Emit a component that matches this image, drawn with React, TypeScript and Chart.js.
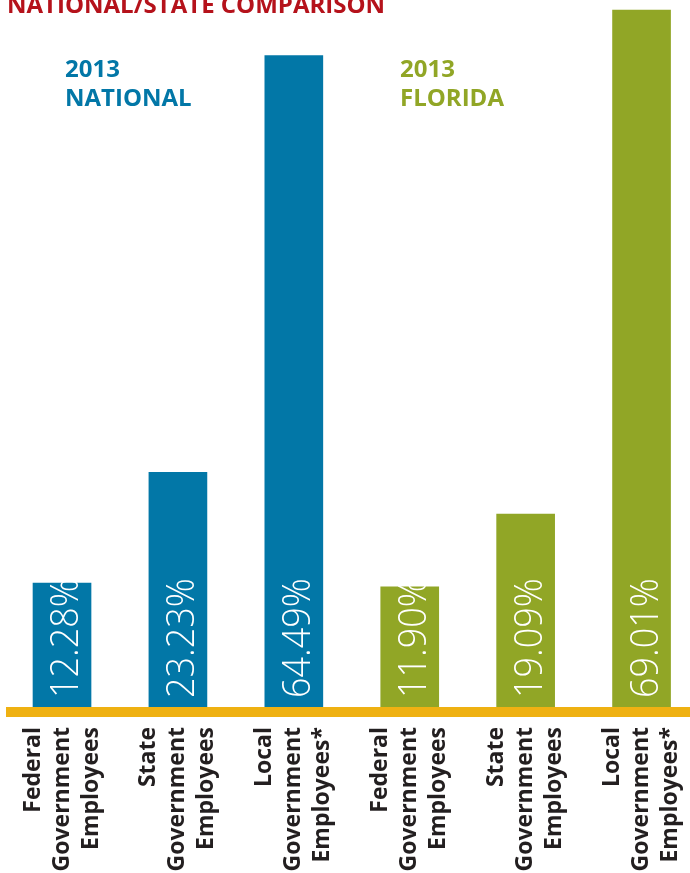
import React, { useEffect, useRef } from "react";
import { Chart, registerables } from "chart.js";

Chart.register(...registerables);

// ---- data ----
const chartTitle = "NATIONAL/STATE COMPARISON";
const categoryLines = [
  ["Federal", "Government", "Employees"],
  ["State", "Government", "Employees"],
  ["Local", "Government", "Employees*"],
];
const groupTitles = [
  ["2013", "NATIONAL"],
  ["2013", "FLORIDA"],
];
const nationalValues = [12.28, 23.23, 64.49];
const floridaValues = [11.9, 19.09, 69.01];
const nationalPositions = [0, 1, 2];
const floridaPositions = [3, 4, 5];
const yMin = 0;
const yMax = 70;

const BLUE = "#0277a7";
const GREEN = "#91a626";
const GOLD = "#efb112";
const RED = "#b5121b";
const DARK = "#231f20";

const overlayPlugin = {
  id: "overlay",
  afterDatasetsDraw(chart: any) {
    const ctx = chart.ctx as CanvasRenderingContext2D;
    const xs = chart.scales.x;
    const ys = chart.scales.y;
    const y0 = ys.getPixelForValue(0);
    ctx.save();
    // gold baseline
    ctx.fillStyle = GOLD;
    ctx.fillRect(6, y0, chart.width - 6, 10);

    chart.data.datasets.forEach((ds: any) => {
      ds.data.forEach((pt: any, i: number) => {
        const cx = xs.getPixelForValue(pt.x);
        // value label inside bar
        ctx.save();
        ctx.translate(cx + 16, y0 - 9);
        ctx.rotate(-Math.PI / 2);
        ctx.scale(1, 1.06);
        ctx.font = "300 36px 'Open Sans'";
        ctx.fillStyle = "#ffffff";
        ctx.textAlign = "left";
        ctx.textBaseline = "alphabetic";
        ctx.fillText(pt.y.toFixed(2) + "%", 0, 0);
        ctx.restore();
        // category label under axis
        const lines = categoryLines[i];
        lines.forEach((line, li) => {
          ctx.save();
          ctx.translate(cx + (li - 1) * 29, y0 + 20);
          ctx.rotate(-Math.PI / 2);
          ctx.font = "700 23px 'Open Sans'";
          ctx.fillStyle = DARK;
          ctx.textAlign = "right";
          ctx.textBaseline = "middle";
          ctx.fillText(line, 0, 0);
          ctx.restore();
        });
      });
    });

    // main title (clipped at top)
    ctx.font = "700 24px 'Open Sans'";
    ctx.fillStyle = RED;
    ctx.textAlign = "left";
    ctx.textBaseline = "alphabetic";
    ctx.fillText(chartTitle, 7, 13);

    // group titles
    const groupX = [65, 400];
    const groupColors = [BLUE, GREEN];
    groupTitles.forEach((lines, gi) => {
      ctx.font = "700 24px 'Open Sans'";
      ctx.fillStyle = groupColors[gi];
      lines.forEach((line, li) => {
        ctx.fillText(line, groupX[gi], 77 + li * 29);
      });
    });
    ctx.restore();
  },
};

export default function App() {
  const canvasRef = useRef<HTMLCanvasElement | null>(null);

  useEffect(() => {
    document.body.style.margin = "0";
    const canvas = canvasRef.current;
    if (!canvas) return;
    const chart = new Chart(canvas, {
      type: "bar",
      data: {
        datasets: [
          {
            label: "2013 National",
            data: nationalValues.map((v, i) => ({ x: nationalPositions[i], y: v })),
            backgroundColor: BLUE,
            barThickness: 58,
            grouped: false,
          } as any,
          {
            label: "2013 Florida",
            data: floridaValues.map((v, i) => ({ x: floridaPositions[i], y: v })),
            backgroundColor: GREEN,
            barThickness: 58,
            grouped: false,
          } as any,
        ],
      },
      options: {
        animation: false,
        responsive: false,
        devicePixelRatio: 1,
        layout: { padding: { top: 0, left: 0, right: 0, bottom: 166 } },
        plugins: {
          legend: { display: false },
          tooltip: { enabled: false },
          title: { display: false },
        },
        scales: {
          x: {
            type: "linear",
            offset: false,
            min: -0.535,
            max: 5.418,
            display: false,
            ticks: { stepSize: 1, includeBounds: false },
            grid: { display: false, offset: false },
          },
          y: {
            min: yMin,
            max: yMax,
            display: false,
            grid: { display: false },
          },
        },
      },
      plugins: [overlayPlugin],
    });
    return () => chart.destroy();
  }, []);

  return (
    <div style={{ width: 690, height: 873, background: "#ffffff" }}>
      <canvas ref={canvasRef} width={690} height={873} style={{ display: "block" }} />
    </div>
  );
}
